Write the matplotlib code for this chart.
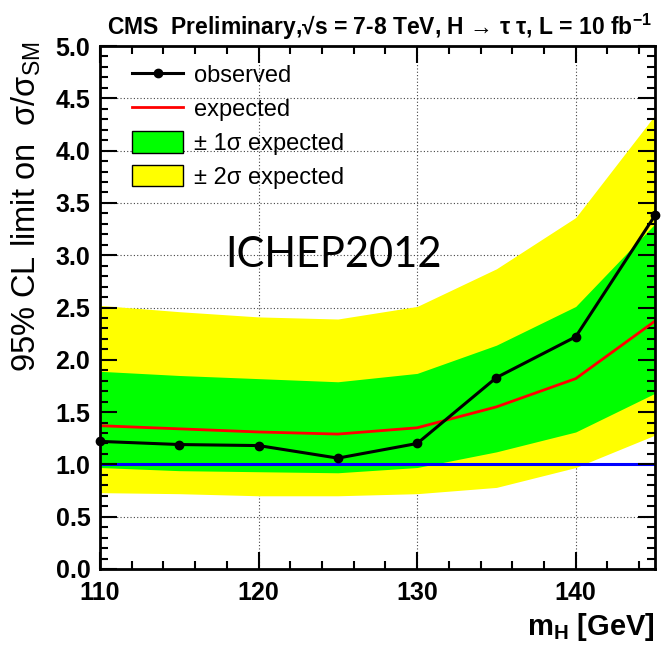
import matplotlib
matplotlib.use("Agg")
import matplotlib.pyplot as plt
from matplotlib.lines import Line2D
from matplotlib.patches import Patch
from matplotlib.ticker import MultipleLocator

# Higgs mass points [GeV]
mass = [110, 115, 120, 125, 130, 135, 140, 145]
# 95% CL limits on sigma/sigma_SM
observed = [1.22, 1.19, 1.18, 1.06, 1.20, 1.83, 2.22, 3.38]
expected = [1.37, 1.34, 1.31, 1.29, 1.35, 1.55, 1.82, 2.37]
plus1 = [1.89, 1.85, 1.82, 1.79, 1.87, 2.14, 2.51, 3.30]
minus1 = [0.97, 0.94, 0.93, 0.92, 0.97, 1.12, 1.31, 1.68]
plus2 = [2.52, 2.46, 2.41, 2.39, 2.51, 2.87, 3.36, 4.34]
minus2 = [0.73, 0.72, 0.70, 0.70, 0.72, 0.78, 0.97, 1.28]
sm_line = 1.0

plt.rcParams['font.family'] = ['Liberation Sans', 'DejaVu Sans']
plt.rcParams['mathtext.default'] = 'regular'

fig = plt.figure(figsize=(6.69, 6.47), dpi=100)
ax = fig.add_axes([100/669, 78/647, 555/669, 523/647])

ax.fill_between(mass, minus2, plus2, color='#ffff00', lw=0, zorder=1.0)
ax.fill_between(mass, minus1, plus1, color='#00ff00', lw=0, zorder=1.1)
ax.axhline(sm_line, color='#0000ff', lw=2.2, zorder=1.5)
ax.plot(mass, expected, color='#ff0000', lw=2.0, zorder=1.6)
ax.plot(mass, observed, color='black', lw=2.2, marker='o', ms=6, zorder=1.7, clip_on=False)

ax.set_xlim(110, 145)
ax.set_ylim(0, 5)
ax.xaxis.set_major_locator(MultipleLocator(10))
ax.xaxis.set_minor_locator(MultipleLocator(2))
ax.yaxis.set_major_locator(MultipleLocator(0.5))
ax.yaxis.set_minor_locator(MultipleLocator(0.1))
ax.yaxis.set_major_formatter(matplotlib.ticker.FormatStrFormatter('%.1f'))

# dotted grid under the bands
for xv in ax.get_xticks():
    if 110 < xv < 145:
        ax.axvline(xv, color='#444444', lw=0.8, ls=(0, (1, 2)), zorder=0.5)
for yv in ax.get_yticks():
    if 0 < yv < 5:
        ax.axhline(yv, color='#444444', lw=0.8, ls=(0, (1, 2)), zorder=0.5)

ax.tick_params(which='both', direction='in', top=True, right=True, width=1.5)
ax.tick_params(which='major', length=12)
ax.tick_params(which='minor', length=6)
ax.tick_params(axis='x', which='major', pad=9)
ax.tick_params(axis='y', which='major', pad=7)
for lab in ax.get_xticklabels() + ax.get_yticklabels():
    lab.set_fontsize(18)
    lab.set_fontweight('bold')
for sp in ax.spines.values():
    sp.set_linewidth(2)

ax.set_ylabel('95% CL limit on  σ/σ$_{SM}$', fontsize=23.5,
              rotation_mode='default', va='top', ha='center')
ax.yaxis.set_label_coords(-0.133, 1.008)
ax.set_xlabel('m$_{H}$ [GeV]', fontsize=21, fontweight='bold', loc='right')
ax.xaxis.set_label_coords(1.0, -0.08)

fig.text(107/669, 1 - 35/647,
         'CMS  Preliminary,√s = 7-8 TeV, H → τ τ, L = 10 fb$^{-1}$',
         fontsize=16.5, fontweight='bold', va='baseline', ha='left')

ax.text(124.7, 3.0, 'ICHEP2012', fontsize=30, family='Lato', ha='center', va='center', zorder=3)

handles = [
    Line2D([], [], color='black', lw=2.2, marker='o', ms=6),
    Line2D([], [], color='#ff0000', lw=2.0),
    Patch(facecolor='#00ff00', edgecolor='black', lw=1),
    Patch(facecolor='#ffff00', edgecolor='black', lw=1),
]
labels = ['observed', 'expected', '± 1σ expected', '± 2σ expected']
ax.legend(handles, labels, loc='upper left', bbox_to_anchor=(0.058, 0.966),
          frameon=False, fontsize=17, handlelength=2.16, handleheight=1.0,
          handletextpad=0.47, labelspacing=0.43, borderpad=0, borderaxespad=0)

fig.savefig('out.png', dpi=100)
